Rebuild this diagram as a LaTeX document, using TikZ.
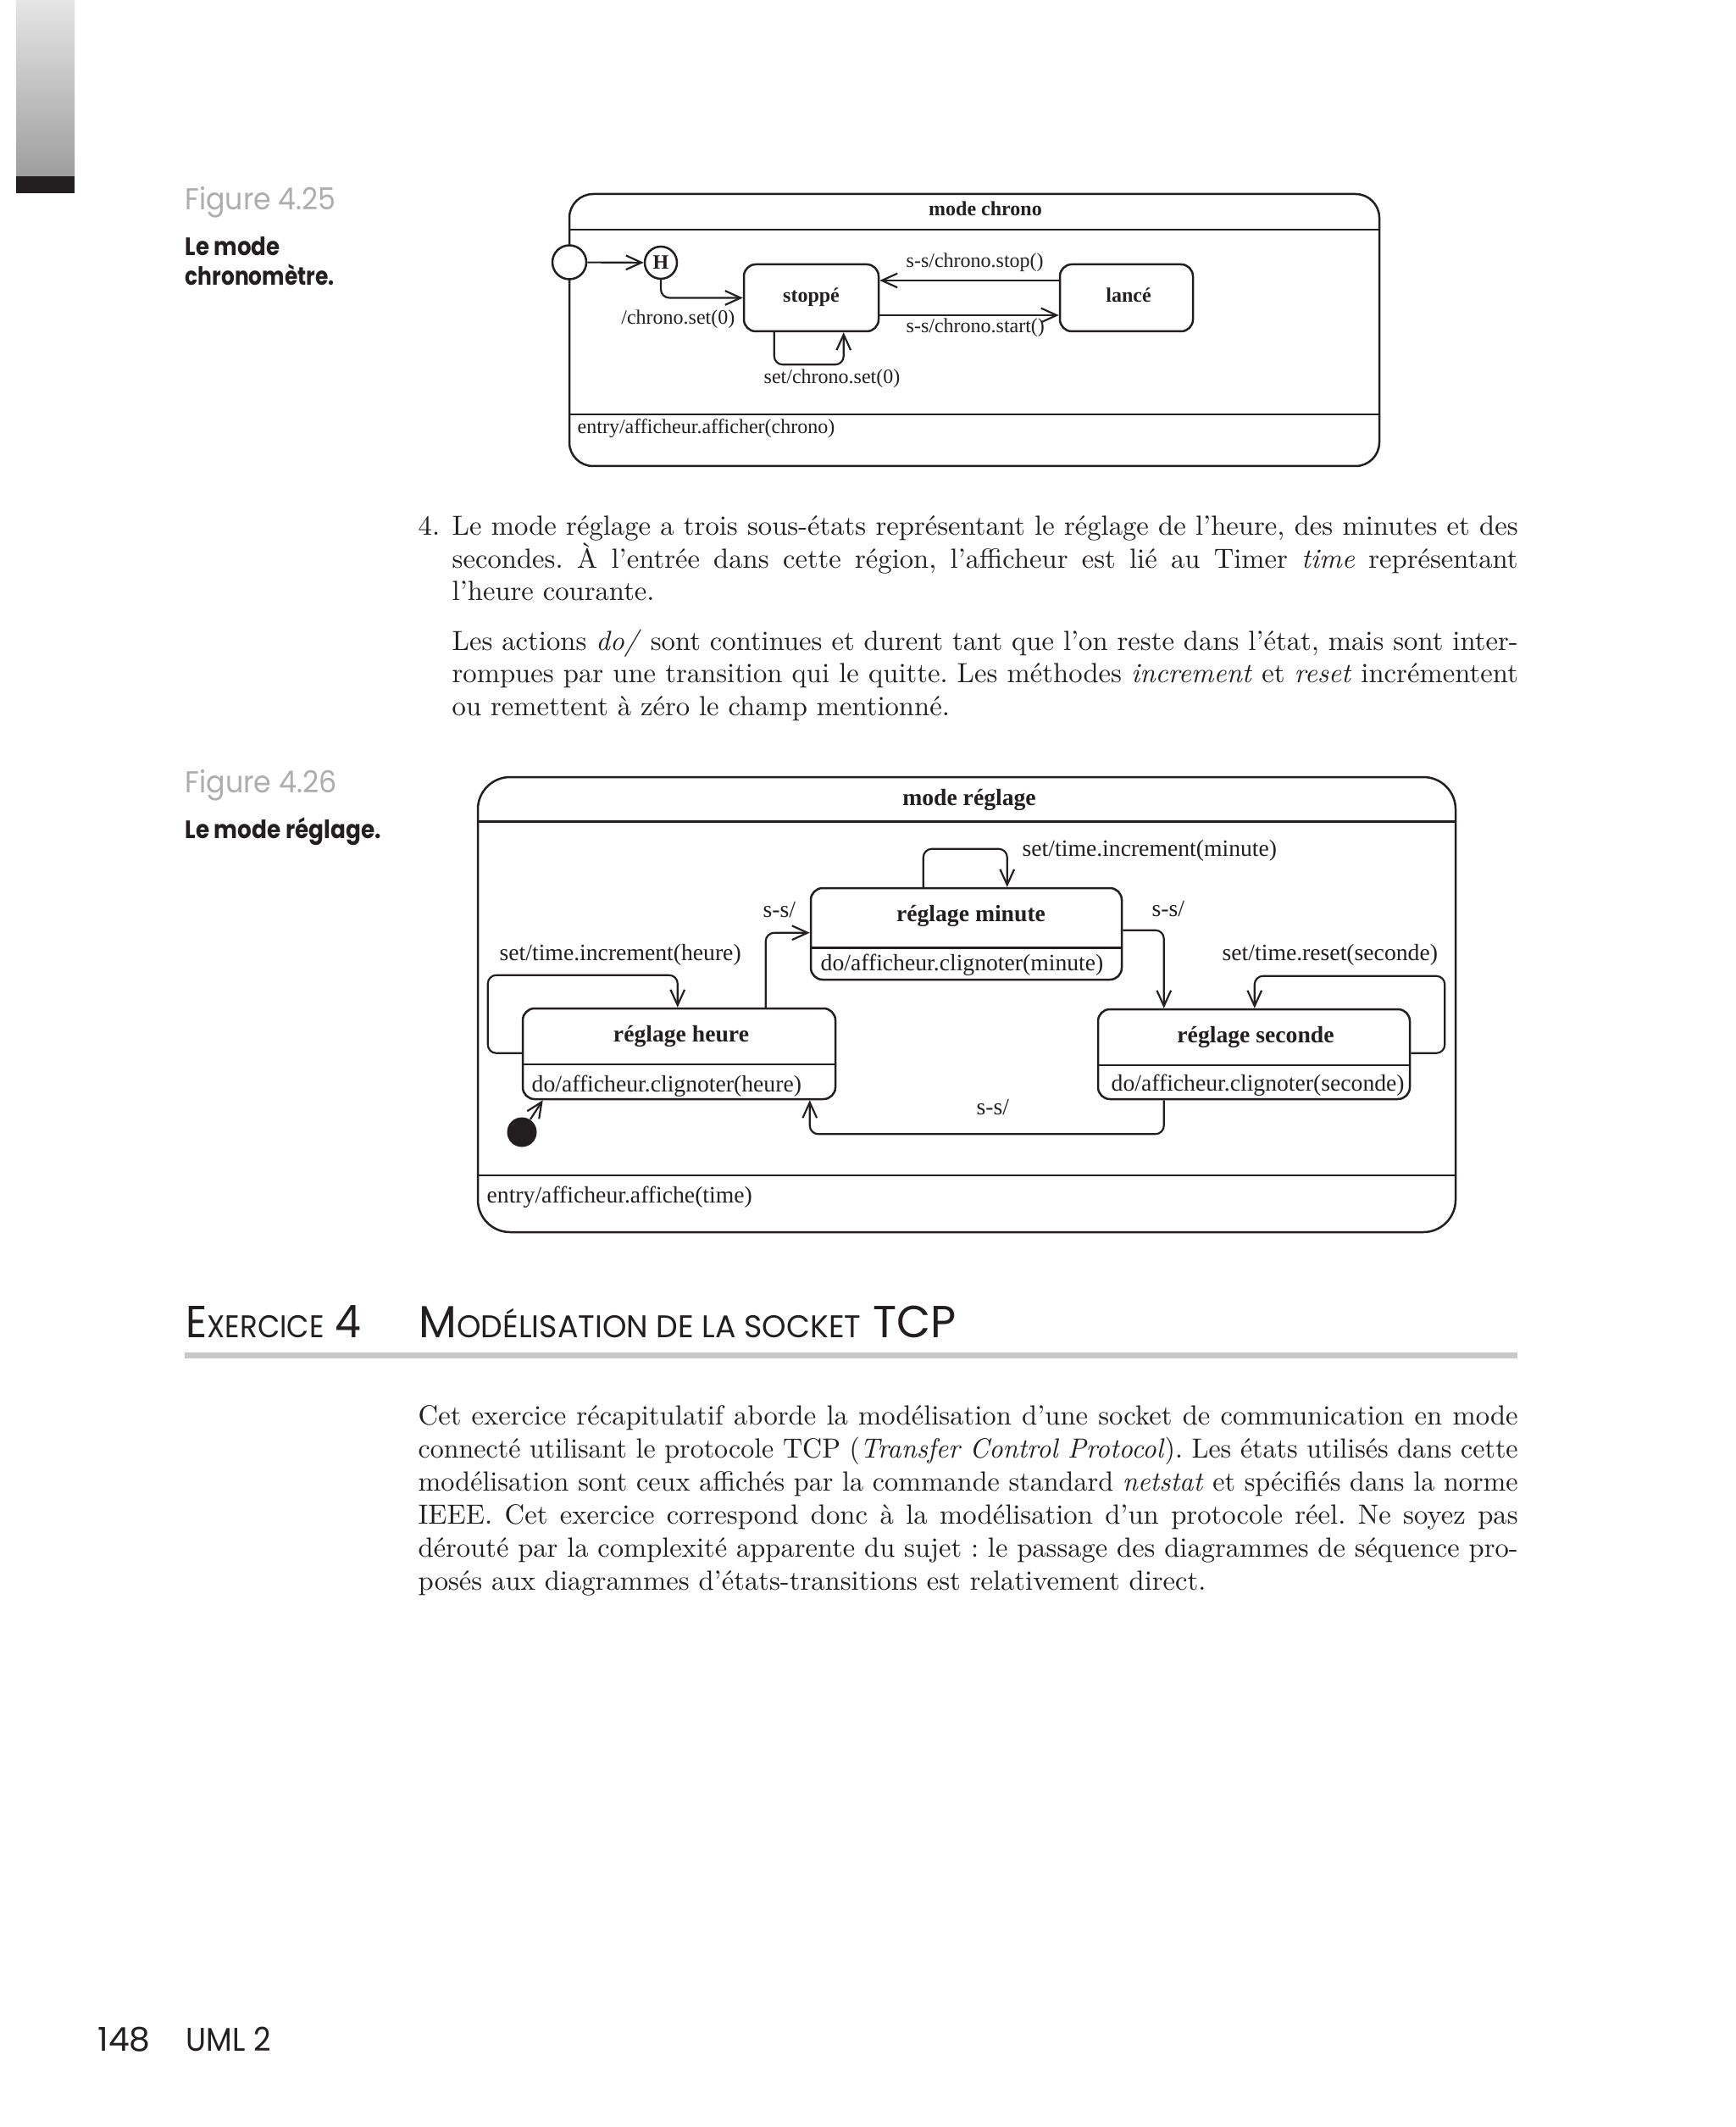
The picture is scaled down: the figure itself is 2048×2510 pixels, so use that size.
\documentclass[tikz,border=0pt]{standalone}
\usepackage{fontspec}
\usepackage{graphicx}
\usetikzlibrary{arrows.meta,fit,calc}
\newfontfamily\tms{Liberation Serif}
\newfontfamily\fut{Poppins}
\definecolor{ink}{HTML}{231F20}
\definecolor{capgray}{HTML}{ADADAF}
\definecolor{rulegray}{HTML}{C8C8CA}
\newdimen\upx \upx=0.3pt
\newcommand\jl[2]{\setbox0\hbox{#2}\ifdim\wd0>#1\relax\resizebox{#1}{\height}{\box0}\else\hbox to #1{\unhbox0}\fi}
\newcommand\fw[2]{\resizebox{#1}{\height}{#2}}
\frenchspacing
\begin{document}
\begin{tikzpicture}[x=0.3pt,y=-0.3pt,
  outerframe/.style={draw=ink, line width=0.75pt, inner sep=0pt, rounded corners=8.4pt},
  outerframeb/.style={draw=ink, line width=0.75pt, inner sep=0pt, rounded corners=11.4pt},
  stbox/.style={draw=ink, line width=0.75pt, inner sep=0pt, rounded corners=4.2pt},
  sepline/.style={draw=ink, line width=0.75pt},
  trans/.style={draw=ink, line width=0.65pt, rounded corners=3pt, -{Straight Barb[length=5.5pt,width=5pt]}},
  lblf/.style={inner sep=0pt, text=ink, font=\tms\fontsize{7.2}{8.6}\selectfont},
  lblg/.style={inner sep=0pt, text=ink, font=\tms\fontsize{8.3}{10}\selectfont},
  bodytext/.style={inner sep=0pt, text=ink, font=\frenchspacing\fontsize{9.8}{11.5}\selectfont},
  figcap/.style={inner sep=0pt, text=capgray, font=\fut\fontsize{10.7}{12}\selectfont},
  figcapb/.style={inner sep=0pt, text=ink, font=\fut\bfseries\fontsize{8.9}{10}\selectfont},
  futn/.style={inner sep=0pt, text=ink, font=\fut\fontsize{11.6}{13}\selectfont}]
\useasboundingbox (0,0) rectangle (2048,2510);
\fill[white] (0,0) rectangle (2048,2510);
% side tab
\shade[top color=black!10, bottom color=black!38] (19,0) rectangle (88,209);
\fill[ink] (19,208) rectangle (88,228);

% ---------- Figure 4.25 caption
\node[figcap, anchor=base west] (f425) at (218,248) {\fw{178\upx}{Figure 4.25}};
\node[figcapb, anchor=base west] (f425a) at (218,302) {\fw{112\upx}{Le mode}};
\node[figcapb, anchor=base west] (f425b) at (218,337) {\fw{176\upx}{chronomètre.}};

% ---------- Figure 4.25 diagram
\node[outerframe, fit={(672,229)(1628,550)}] (chrono) {};
\draw[sepline] (672,271) -- (1628,271);
\draw[sepline] (672,489) -- (1628,489);
\node[lblf, anchor=base, font=\tms\bfseries\fontsize{7.2}{8.6}\selectfont] (chronoT) at (1163,255) {mode chrono};
\node[draw=ink, line width=0.75pt, fill=white, circle, minimum size=12pt, inner sep=0pt] (entry) at (672,309.5) {};
\node[draw=ink, line width=0.75pt, fill=white, circle, minimum size=11.4pt, inner sep=0pt, text=ink, font=\tms\bfseries\fontsize{7.2}{8.6}\selectfont] (H) at (780,310) {H};
\node[stbox, fit={(878,312)(1037,391)}] (stoppe) {};
\node[lblf, anchor=base, font=\tms\bfseries\fontsize{7.2}{8.6}\selectfont] (stoppeT) at (957.5,357) {stoppé};
\node[stbox, fit={(1251,312)(1408,391)}] (lance) {};
\node[lblf, anchor=base, font=\tms\bfseries\fontsize{7.2}{8.6}\selectfont] (lanceT) at (1332,357) {lancé};

\draw[trans] (entry) -- (H);
\draw[trans] (H.south) |- (stoppe.west);
\draw[trans] ($(lance.west)+(0,-20.5)$) -- ($(stoppe.east)+(0,-20.5)$);
\draw[trans] ($(stoppe.east)+(0,20.5)$) -- ($(lance.west)+(0,20.5)$);
\draw[trans] ($(stoppe.south west)+(37,0)$) -- ++(0,38) -| ($(stoppe.south west)+(119,0)$);

\node[lblf, anchor=base east] (lblH) at (868,383) {/chrono.set(0)};
\node[lblf, anchor=base west] (lblStop) at (1069,316) {s-s/chrono.stop()};
\node[lblf, anchor=base west] (lblStart) at (1069,393) {s-s/chrono.start()};
\node[lblf, anchor=base] (lblSet) at (982,453) {set/chrono.set(0)};
\node[lblf, anchor=base west] (entryA) at (681,512) {entry/afficheur.afficher(chrono)};

% ---------- paragraph 4
\node[bodytext, anchor=base west] (n4) at (493,632) {4.};
\node[bodytext, anchor=base west] (p1a) at (533,632) {\jl{1258\upx}{Le mode réglage a trois sous-états représentant le réglage de l’heure, des minutes et des}};
\node[bodytext, anchor=base west] (p1b) at (533,670.5) {\jl{1258\upx}{secondes. À l’entrée dans cette région, l’afficheur est lié au Timer \textit{time} représentant}};
\node[bodytext, anchor=base west] (p1c) at (533,709) {l’heure courante.};
\node[bodytext, anchor=base west] (p2a) at (533,767) {\jl{1258\upx}{Les actions \textit{do/} sont continues et durent tant que l’on reste dans l’état, mais sont inter-}};
\node[bodytext, anchor=base west] (p2b) at (533,805.5) {\jl{1258\upx}{rompues par une transition qui le quitte. Les méthodes \textit{increment} et \textit{reset} incrémentent}};
\node[bodytext, anchor=base west] (p2c) at (533,844) {ou remettent à zéro le champ mentionné.};

% ---------- Figure 4.26 caption
\node[figcap, anchor=base west] (f426) at (218,935) {\fw{179\upx}{Figure 4.26}};
\node[figcapb, anchor=base west] (f426a) at (218,989) {\fw{231\upx}{Le mode réglage.}};

% ---------- Figure 4.26 diagram
\node[outerframeb, fit={(564,917)(1718,1454)}] (reglage) {};
\draw[sepline] (564,969.5) -- (1718,969.5);
\draw[sepline] (564,1387) -- (1718,1387);
\node[lblg, anchor=base, font=\tms\bfseries\fontsize{8.3}{10}\selectfont] (reglageT) at (1144,950) {mode réglage};

\node[stbox, fit={(957,1048)(1324,1156)}] (minute) {};
\draw[sepline] (957,1118.5) -- (1324,1118.5);
\node[lblg, anchor=base, font=\tms\bfseries\fontsize{8.3}{10}\selectfont] (minuteT) at (1146,1087) {réglage minute};
\node[lblg, anchor=base west] (minuteD) at (968,1145) {do/afficheur.clignoter(minute)};

\node[stbox, fit={(617,1190)(986,1297)}] (heure) {};
\draw[sepline] (617,1256) -- (986,1256);
\node[lblg, anchor=base, font=\tms\bfseries\fontsize{8.3}{10}\selectfont] (heureT) at (804,1229) {réglage heure};
\node[lblg, anchor=base west] (heureD) at (627,1288) {do/afficheur.clignoter(heure)};

\node[stbox, fit={(1296,1191)(1664,1297)}] (seconde) {};
\draw[sepline] (1296,1257) -- (1664,1257);
\node[lblg, anchor=base, font=\tms\bfseries\fontsize{8.3}{10}\selectfont] (secondeT) at (1482,1230) {réglage seconde};
\node[lblg, anchor=base west] (secondeD) at (1311,1287) {do/afficheur.clignoter(seconde)};

\node[circle, fill=ink, minimum size=10.5pt, inner sep=0pt] (init) at (616,1336) {};

\draw[trans] ($(minute.north west)+(134,0)$) -- ++(0,-45) -| ($(minute.north west)+(233,0)$);
\draw[trans] ($(heure.north west)+(288,0)$) |- ($(minute.north west)+(0,54)$);
\draw[trans] ($(minute.north east)+(0,51)$) -| ($(seconde.north west)+(79,0)$);
\draw[trans] ($(heure.north west)+(0,54)$) -- ++(-40,0) -- ++(0,-92) -| ($(heure.north west)+(184,0)$);
\draw[trans] ($(seconde.north east)+(0,53)$) -- ++(40,0) -- ++(0,-91) -| ($(seconde.north west)+(186,0)$);
\draw[trans] ($(seconde.south west)+(79,0)$) -- ++(0,40) -| ($(heure.south west)+(340,0)$);
\draw[trans] (init) -- ($(heure.south west)+(25,0)$);

\node[lblg, anchor=base west] (lblMin) at (1206,1010) {set/time.increment(minute)};
\node[lblg, anchor=base west] (lblHM) at (900,1082) {s-s/};
\node[lblg, anchor=base west] (lblMS) at (1359,1081) {s-s/};
\node[lblg, anchor=base west] (lblHr) at (589,1133) {set/time.increment(heure)};
\node[lblg, anchor=base west] (lblSec) at (1442,1133) {set/time.reset(seconde)};
\node[lblg, anchor=base west] (lblSH) at (1152,1315) {s-s/};
\node[lblg, anchor=base west] (entryB) at (574,1419) {entry/afficheur.affiche(time)};

% ---------- Exercise heading
\node[inner sep=0pt, text=ink, anchor=base west] (ex) at (219,1578) {\fw{207\upx}{\fut\fontsize{15.9}{17}\selectfont E{\fontsize{11.1}{12}\selectfont XERCICE} 4}};
\node[inner sep=0pt, text=ink, anchor=base west] (exT) at (494,1578) {\fw{634\upx}{\fut\fontsize{15.9}{17}\selectfont M{\fontsize{11.1}{12}\selectfont ODÉLISATION DE LA SOCKET} TCP}};
\fill[rulegray] (218,1596) rectangle (1791,1603);

% ---------- paragraph exercise
\node[bodytext, anchor=base west] (p3a) at (493,1681) {\jl{1298\upx}{Cet exercice récapitulatif aborde la modélisation d’une socket de communication en mode}};
\node[bodytext, anchor=base west] (p3b) at (493,1720) {\jl{1298\upx}{connecté utilisant le protocole TCP (\textit{Transfer Control Protocol}). Les états utilisés dans cette}};
\node[bodytext, anchor=base west] (p3c) at (493,1759) {\jl{1298\upx}{modélisation sont ceux affichés par la commande standard \textit{netstat} et spécifiés dans la norme}};
\node[bodytext, anchor=base west] (p3d) at (493,1798) {\jl{1298\upx}{IEEE. Cet exercice correspond donc à la modélisation d’un protocole réel. Ne soyez pas}};
\node[bodytext, anchor=base west] (p3e) at (493,1837) {\jl{1298\upx}{dérouté par la complexité apparente du sujet : le passage des diagrammes de séquence pro-}};
\node[bodytext, anchor=base west] (p3f) at (493,1876) {posés aux diagrammes d’états-transitions est relativement direct.};

% ---------- footer
\node[futn, anchor=base west] (pg) at (115,2420) {\fw{62\upx}{148}};
\node[futn, anchor=base west] (uml) at (219,2420) {\fw{100\upx}{UML 2}};
\end{tikzpicture}
\end{document}
